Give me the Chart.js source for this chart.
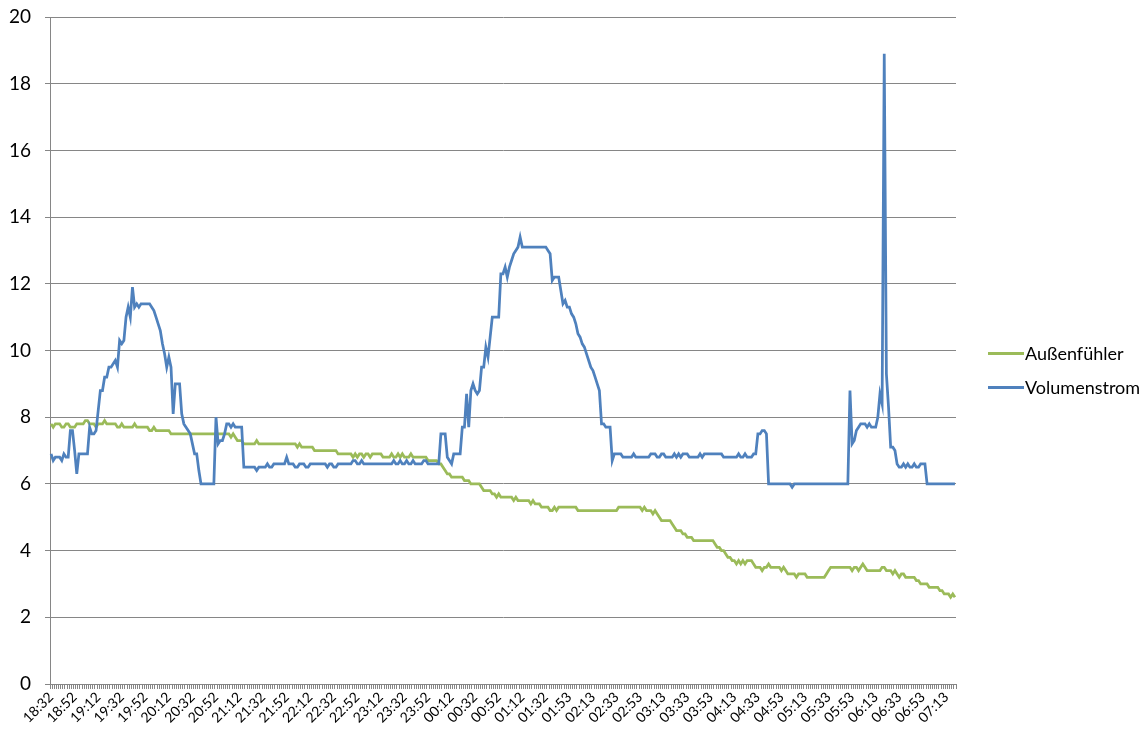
<!DOCTYPE html>
<html>
<head>
<meta charset="utf-8">
<script src="https://cdn.jsdelivr.net/npm/chart.js@4.4.1/dist/chart.umd.min.js"></script>
<style>
  body { margin: 0; background: #fff; }
  #wrap { position: relative; width: 1148px; height: 739px; }
  #legend { position: absolute; left: 988px; top: 336px; font-family: Lato, "Open Sans", sans-serif; font-size: 18px; color: #000; }
  .item { display: flex; align-items: center; height: 34px; }
  .swatch { width: 36px; height: 3px; margin-right: 1px; }
</style>
</head>
<body>
<div id="wrap">
  <canvas id="chart"></canvas>
  <div id="legend"></div>
</div>
<script>
// tick labels shown every 11 samples
const tickLabels = ["18:32", "18:52", "19:12", "19:32", "19:52", "20:12", "20:32", "20:52", "21:12", "21:32",
  "21:52", "22:12", "22:32", "22:52", "23:12", "23:32", "23:52", "00:12", "00:32", "00:52",
  "01:12", "01:32", "01:53", "02:13", "02:33", "02:53", "03:13", "03:33", "03:53", "04:13",
  "04:33", "04:53", "05:13", "05:33", "05:53", "06:13", "06:33", "06:53", "07:13"];
const labelEvery = 11;

const aussenfuehler = [
  7.8, 7.7, 7.8, 7.8, 7.8, 7.7, 7.7, 7.8, 7.8, 7.7,
  7.7, 7.7, 7.8, 7.8, 7.8, 7.8, 7.9, 7.9, 7.8, 7.8,
  7.8, 7.7, 7.8, 7.8, 7.8, 7.9, 7.8, 7.8, 7.8, 7.8,
  7.8, 7.7, 7.7, 7.8, 7.7, 7.7, 7.7, 7.7, 7.7, 7.8,
  7.7, 7.7, 7.7, 7.7, 7.7, 7.7, 7.6, 7.6, 7.7, 7.6,
  7.6, 7.6, 7.6, 7.6, 7.6, 7.6, 7.5, 7.5, 7.5, 7.5,
  7.5, 7.5, 7.5, 7.5, 7.5, 7.5, 7.5, 7.5, 7.5, 7.5,
  7.5, 7.5, 7.5, 7.5, 7.5, 7.5, 7.5, 7.5, 7.5, 7.5,
  7.5, 7.5, 7.5, 7.5, 7.4, 7.5, 7.4, 7.3, 7.3, 7.3,
  7.2, 7.2, 7.2, 7.2, 7.2, 7.2, 7.3, 7.2, 7.2, 7.2,
  7.2, 7.2, 7.2, 7.2, 7.2, 7.2, 7.2, 7.2, 7.2, 7.2,
  7.2, 7.2, 7.2, 7.2, 7.2, 7.1, 7.2, 7.1, 7.1, 7.1,
  7.1, 7.1, 7.1, 7.0, 7.0, 7.0, 7.0, 7.0, 7.0, 7.0,
  7.0, 7.0, 7.0, 7.0, 6.9, 6.9, 6.9, 6.9, 6.9, 6.9,
  6.9, 6.8, 6.9, 6.8, 6.9, 6.9, 6.8, 6.9, 6.9, 6.8,
  6.9, 6.9, 6.9, 6.9, 6.9, 6.8, 6.8, 6.8, 6.8, 6.9,
  6.8, 6.8, 6.9, 6.8, 6.9, 6.8, 6.8, 6.8, 6.9, 6.8,
  6.8, 6.8, 6.8, 6.8, 6.8, 6.8, 6.7, 6.7, 6.7, 6.7,
  6.7, 6.6, 6.6, 6.5, 6.4, 6.3, 6.3, 6.2, 6.2, 6.2,
  6.2, 6.2, 6.2, 6.1, 6.1, 6.1, 6.0, 6.0, 6.0, 6.0,
  6.0, 5.9, 5.8, 5.8, 5.8, 5.8, 5.7, 5.7, 5.6, 5.7,
  5.6, 5.6, 5.6, 5.6, 5.6, 5.6, 5.5, 5.6, 5.5, 5.5,
  5.5, 5.5, 5.5, 5.5, 5.4, 5.5, 5.4, 5.4, 5.4, 5.3,
  5.3, 5.3, 5.3, 5.2, 5.2, 5.3, 5.2, 5.3, 5.3, 5.3,
  5.3, 5.3, 5.3, 5.3, 5.3, 5.3, 5.2, 5.2, 5.2, 5.2,
  5.2, 5.2, 5.2, 5.2, 5.2, 5.2, 5.2, 5.2, 5.2, 5.2,
  5.2, 5.2, 5.2, 5.2, 5.2, 5.3, 5.3, 5.3, 5.3, 5.3,
  5.3, 5.3, 5.3, 5.3, 5.3, 5.3, 5.2, 5.3, 5.2, 5.2,
  5.2, 5.1, 5.2, 5.1, 5.0, 4.9, 4.9, 4.9, 4.9, 4.9,
  4.8, 4.7, 4.6, 4.6, 4.6, 4.5, 4.5, 4.4, 4.4, 4.4,
  4.3, 4.3, 4.3, 4.3, 4.3, 4.3, 4.3, 4.3, 4.3, 4.3,
  4.2, 4.1, 4.1, 4.0, 4.0, 3.9, 3.8, 3.8, 3.7, 3.7,
  3.6, 3.7, 3.6, 3.7, 3.6, 3.7, 3.7, 3.7, 3.6, 3.5,
  3.5, 3.5, 3.4, 3.5, 3.5, 3.6, 3.5, 3.5, 3.5, 3.5,
  3.5, 3.4, 3.5, 3.4, 3.3, 3.3, 3.3, 3.3, 3.2, 3.3,
  3.3, 3.3, 3.3, 3.2, 3.2, 3.2, 3.2, 3.2, 3.2, 3.2,
  3.2, 3.2, 3.3, 3.4, 3.5, 3.5, 3.5, 3.5, 3.5, 3.5,
  3.5, 3.5, 3.5, 3.5, 3.4, 3.5, 3.5, 3.4, 3.5, 3.6,
  3.5, 3.4, 3.4, 3.4, 3.4, 3.4, 3.4, 3.4, 3.5, 3.5,
  3.4, 3.4, 3.4, 3.3, 3.4, 3.3, 3.2, 3.3, 3.3, 3.2,
  3.2, 3.2, 3.2, 3.2, 3.1, 3.1, 3.0, 3.0, 3.0, 3.0,
  2.9, 2.9, 2.9, 2.9, 2.9, 2.8, 2.8, 2.7, 2.7, 2.7,
  2.6, 2.7, 2.6
];

const volumenstrom = [
  6.9, 6.7, 6.8, 6.8, 6.8, 6.7, 6.9, 6.8, 6.8, 7.6,
  7.6, 7.0, 6.3, 6.9, 6.9, 6.9, 6.9, 6.9, 7.7, 7.5,
  7.5, 7.6, 8.2, 8.8, 8.8, 9.2, 9.2, 9.5, 9.5, 9.6,
  9.7, 9.5, 10.3, 10.2, 10.3, 11.0, 11.3, 11.0, 11.9, 11.3,
  11.4, 11.3, 11.4, 11.4, 11.4, 11.4, 11.4, 11.3, 11.2, 11.0,
  10.8, 10.6, 10.2, 9.9, 9.5, 9.8, 9.5, 8.1, 9.0, 9.0,
  9.0, 8.1, 7.8, 7.7, 7.6, 7.5, 7.2, 6.9, 6.9, 6.4,
  6.0, 6.0, 6.0, 6.0, 6.0, 6.0, 6.0, 8.0, 7.2, 7.3,
  7.3, 7.5, 7.8, 7.8, 7.7, 7.8, 7.7, 7.7, 7.7, 7.7,
  6.5, 6.5, 6.5, 6.5, 6.5, 6.5, 6.4, 6.5, 6.5, 6.5,
  6.5, 6.6, 6.5, 6.5, 6.6, 6.6, 6.6, 6.6, 6.6, 6.6,
  6.8, 6.6, 6.6, 6.6, 6.5, 6.5, 6.6, 6.6, 6.6, 6.5,
  6.5, 6.6, 6.6, 6.6, 6.6, 6.6, 6.6, 6.6, 6.6, 6.5,
  6.6, 6.6, 6.5, 6.5, 6.6, 6.6, 6.6, 6.6, 6.6, 6.6,
  6.6, 6.7, 6.7, 6.6, 6.6, 6.7, 6.6, 6.6, 6.6, 6.6,
  6.6, 6.6, 6.6, 6.6, 6.6, 6.6, 6.6, 6.6, 6.6, 6.6,
  6.7, 6.6, 6.6, 6.7, 6.6, 6.6, 6.7, 6.6, 6.6, 6.7,
  6.6, 6.6, 6.6, 6.6, 6.7, 6.7, 6.6, 6.6, 6.6, 6.6,
  6.6, 6.6, 7.5, 7.5, 7.5, 6.8, 6.7, 6.6, 6.9, 6.9,
  6.9, 6.9, 7.7, 7.7, 8.7, 7.7, 8.8, 9.0, 8.8, 8.7,
  8.8, 9.5, 9.5, 10.1, 9.8, 10.4, 11.0, 11.0, 11.0, 11.0,
  12.3, 12.3, 12.5, 12.2, 12.5, 12.7, 12.9, 13.0, 13.1, 13.4,
  13.1, 13.1, 13.1, 13.1, 13.1, 13.1, 13.1, 13.1, 13.1, 13.1,
  13.1, 13.1, 13.0, 12.9, 12.1, 12.2, 12.2, 12.2, 11.8, 11.4,
  11.5, 11.3, 11.3, 11.1, 11.0, 10.8, 10.5, 10.4, 10.2, 10.1,
  9.9, 9.7, 9.5, 9.4, 9.2, 9.0, 8.8, 7.8, 7.8, 7.7,
  7.7, 7.7, 6.7, 6.9, 6.9, 6.9, 6.9, 6.8, 6.8, 6.8,
  6.8, 6.8, 6.9, 6.8, 6.8, 6.8, 6.8, 6.8, 6.8, 6.8,
  6.9, 6.9, 6.9, 6.8, 6.8, 6.9, 6.9, 6.8, 6.8, 6.8,
  6.8, 6.9, 6.8, 6.9, 6.8, 6.9, 6.9, 6.9, 6.8, 6.8,
  6.8, 6.8, 6.8, 6.9, 6.8, 6.9, 6.9, 6.9, 6.9, 6.9,
  6.9, 6.9, 6.9, 6.9, 6.8, 6.8, 6.8, 6.8, 6.8, 6.8,
  6.8, 6.9, 6.8, 6.8, 6.9, 6.8, 6.8, 6.8, 6.9, 6.9,
  7.5, 7.5, 7.6, 7.6, 7.5, 6.0, 6.0, 6.0, 6.0, 6.0,
  6.0, 6.0, 6.0, 6.0, 6.0, 6.0, 5.9, 6.0, 6.0, 6.0,
  6.0, 6.0, 6.0, 6.0, 6.0, 6.0, 6.0, 6.0, 6.0, 6.0,
  6.0, 6.0, 6.0, 6.0, 6.0, 6.0, 6.0, 6.0, 6.0, 6.0,
  6.0, 6.0, 6.0, 8.8, 7.2, 7.3, 7.6, 7.7, 7.8, 7.8,
  7.8, 7.7, 7.8, 7.7, 7.7, 7.7, 8.0, 8.7, 8.4, 18.9,
  9.3, 8.3, 7.1, 7.1, 7.0, 6.6, 6.5, 6.5, 6.6, 6.5,
  6.6, 6.5, 6.5, 6.6, 6.5, 6.5, 6.6, 6.6, 6.6, 6.0,
  6.0, 6.0, 6.0, 6.0, 6.0, 6.0, 6.0, 6.0, 6.0, 6.0,
  6.0, 6.0, 6.0
];

const seriesNames = ["Außenfühler", "Volumenstrom"];
const seriesColors = ["#9bbb59", "#4f81bd"];

// one category per sample, only every 11th gets a text
let labels = [];
for (let i = 0; i < volumenstrom.length; i++) {
  labels.push(i % labelEvery === 0 ? tickLabels[i / labelEvery] || "" : "");
}

const axisColor = "#868686";
const fontFamily = "Lato, 'Open Sans', sans-serif";

Chart.defaults.font.family = fontFamily;
Chart.defaults.color = "#000";

const config = {
  type: "line",
  data: {
    labels: labels,
    datasets: [
      {
        label: seriesNames[0],
        data: aussenfuehler,
        borderColor: seriesColors[0],
        borderWidth: 2.75,
        pointRadius: 0,
        tension: 0,
        order: 1,
      },
      {
        label: seriesNames[1],
        data: volumenstrom,
        borderColor: seriesColors[1],
        borderWidth: 2.75,
        pointRadius: 0,
        tension: 0,
        order: 0,
      },
    ],
  },
  options: {
    responsive: true,
    maintainAspectRatio: false,
    animation: false,
    layout: {
      padding: { top: 17, right: 192, left: 0, bottom: 0 },
    },
    plugins: {
      legend: { display: false },
      tooltip: { enabled: false },
    },
    scales: {
      x: {
        type: "category",
        offset: true,
        grid: {
          offset: true,
          drawOnChartArea: false,
          drawTicks: true,
          tickLength: 5,
          color: axisColor,
        },
        border: { color: axisColor },
        ticks: {
          autoSkip: false,
          maxRotation: 45,
          minRotation: 45,
          padding: 0,
          font: { size: 14 },
          color: "#000",
        },
        afterFit: (scale) => {
          scale.height = 55;
          scale.paddingLeft = 0;
          scale.paddingRight = 0;
        },
      },
      y: {
        min: 0,
        max: 20,
        ticks: {
          stepSize: 2,
          padding: 14,
          font: { size: 19 },
          color: "#000",
        },
        grid: {
          color: axisColor,
          tickLength: 5,
        },
        border: { color: axisColor },
        afterFit: (scale) => {
          scale.width = 50;
          scale.paddingTop = 0;
          scale.paddingBottom = 0;
        },
      },
    },
  },
};

new Chart(document.getElementById("chart"), config);

// legend as html, same order as the datasets
const legendEl = document.getElementById("legend");
seriesNames.forEach((name, i) => {
  const item = document.createElement("div");
  item.className = "item";
  const sw = document.createElement("span");
  sw.className = "swatch";
  sw.style.background = seriesColors[i];
  const txt = document.createElement("span");
  txt.textContent = name;
  item.appendChild(sw);
  item.appendChild(txt);
  legendEl.appendChild(item);
});
</script>
</body>
</html>
